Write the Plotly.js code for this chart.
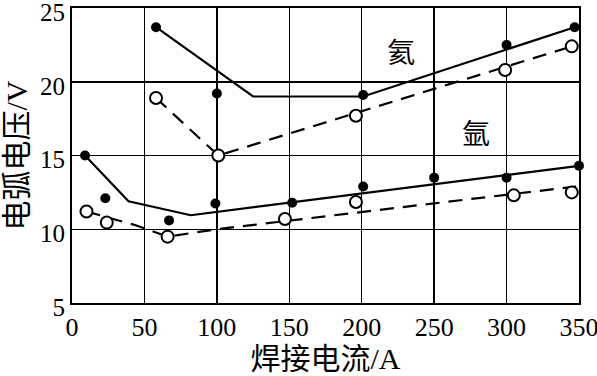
<!DOCTYPE html>
<html>
<head>
<meta charset="utf-8">
<script src="https://cdn.plot.ly/plotly-3.0.1.min.js"></script>
<style>html,body{margin:0;padding:0;background:#fff;}#chart{width:597px;height:376px;}</style>
</head>
<body>
<div id="chart"></div>
<script>
// Helium (氦) — solid: filled dots + fitted line
const heSolidX = [58, 100, 201, 300, 347];
const heSolidY = [23.7, 19.2, 19.1, 22.5, 23.7];
const heSolidLineX = [58, 125, 201, 347];
const heSolidLineY = [23.7, 19.0, 19.0, 23.7];
// Helium (氦) — dashed: open circles + fitted line
const heDashX = [58, 101, 196, 299, 345];
const heDashY = [18.9, 15.0, 17.7, 20.8, 22.4];
const heDashLineX = [58, 101, 345];
const heDashLineY = [18.9, 15.0, 22.4];
// Argon (氩) — solid
const arSolidX = [9, 23, 67, 99, 152, 201, 250, 300, 350];
const arSolidY = [15.0, 12.1, 10.6, 11.75, 11.8, 12.9, 13.5, 13.5, 14.3];
const arSolidLineX = [9, 39, 82, 350];
const arSolidLineY = [15.0, 11.9, 10.95, 14.3];
// Argon (氩) — dashed
const arDashX = [10, 24, 66, 147, 196, 305, 345];
const arDashY = [11.2, 10.45, 9.5, 10.7, 11.85, 12.3, 12.5];
const arDashLineX = [10, 43, 66, 100, 348];
const arDashLineY = [11.2, 10.3, 9.5, 10.0, 12.9];
// Labels
const xTicks = [0, 50, 100, 150, 200, 250, 300, 350];
const yTicks = [5, 10, 15, 20, 25];
const gasLabels = ["氦", "氩"];
const gasLabelX = [227, 279];
const gasLabelY = [21.9, 16.4];

const serif = "Liberation Serif, Noto Sans CJK SC, serif";
const dashPat = "14px,9px";

function lineTrace(x, y, dash) {
  return {x: x, y: y, type: "scatter", mode: "lines", cliponaxis: false,
    line: {color: "#000", width: 2.2, dash: dash}, hoverinfo: "skip", showlegend: false};
}
function markerTrace(x, y, filled) {
  return {x: x, y: y, type: "scatter", mode: "markers", cliponaxis: false, showlegend: false,
    marker: filled ? {color: "#000", size: 10, line: {width: 0}}
                   : {color: "#fff", size: 12, symbol: "circle", line: {color: "#000", width: 2}}};
}

const data = [
  lineTrace(heSolidLineX, heSolidLineY, "solid"),
  lineTrace(heDashLineX, heDashLineY, dashPat),
  lineTrace(arSolidLineX, arSolidLineY, "solid"),
  lineTrace(arDashLineX, arDashLineY, dashPat),
  markerTrace(heSolidX, heSolidY, true),
  markerTrace(heDashX, heDashY, false),
  markerTrace(arSolidX, arSolidY, true),
  markerTrace(arDashX, arDashY, false)
];

const layout = {
  width: 597, height: 376,
  margin: {l: 72, r: 18, t: 8, b: 73},
  paper_bgcolor: "#fff", plot_bgcolor: "#fff",
  font: {family: serif, color: "#000", size: 26},
  xaxis: {
    range: [0, 350], tickvals: xTicks, ticktext: xTicks.map(String),
    showgrid: true, gridcolor: "#000", gridwidth: 1.5,
    showline: true, linecolor: "#000", linewidth: 2, mirror: true,
    zeroline: false, ticks: "", ticklen: 0, ticklabeloverflow: "allow",
    tickfont: {family: serif, size: 26, color: "#000"},
    title: {text: "焊接电流/A", font: {family: serif, size: 30, color: "#000"}, standoff: 6}
  },
  yaxis: {
    range: [5, 25], tickvals: yTicks, ticktext: yTicks.map(String),
    showgrid: true, gridcolor: "#000", gridwidth: 1.5,
    showline: true, linecolor: "#000", linewidth: 2, mirror: true,
    zeroline: false, ticks: "", ticklen: 0, ticklabeloverflow: "allow",
    ticklabelshift: 4,
    tickfont: {family: serif, size: 25, color: "#000"},
    title: {text: "电弧电压/V", font: {family: serif, size: 30, color: "#000"}, standoff: 4}
  },
  annotations: gasLabels.map((t, i) => ({
    x: gasLabelX[i], y: gasLabelY[i], xref: "x", yref: "y", text: t, showarrow: false,
    font: {family: serif, size: 28, color: "#000"}, bgcolor: "rgba(0,0,0,0)"
  }))
};

Plotly.newPlot("chart", data, layout, {staticPlot: true, displayModeBar: false});
</script>
</body>
</html>
